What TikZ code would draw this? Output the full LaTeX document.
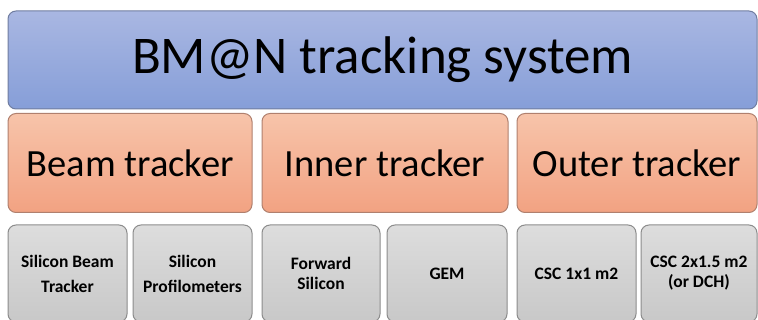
\documentclass[tikz,border=0pt]{standalone}
\usepackage{fontspec}
\setmainfont{Carlito}
\definecolor{blueTop}{RGB}{169,183,226}
\definecolor{blueBot}{RGB}{134,158,216}
\definecolor{blueLine}{RGB}{112,125,160}
\definecolor{salTop}{RGB}{247,196,170}
\definecolor{salBot}{RGB}{242,162,130}
\definecolor{salLine}{RGB}{176,128,110}
\definecolor{greyTop}{RGB}{221,221,221}
\definecolor{greyBot}{RGB}{200,200,200}
\definecolor{greyLine}{RGB}{140,140,140}
\begin{document}
\begin{tikzpicture}[x=1pt, y=-1pt,
  panel/.style={rounded corners=8pt, line width=1pt, inner sep=0pt},
  head/.style={panel, draw=blueLine, top color=blueTop, bottom color=blueBot,
    minimum width=749pt, minimum height=98pt, font=\fontsize{53}{60}\selectfont},
  group/.style={panel, draw=salLine, top color=salTop, bottom color=salBot,
    minimum height=99pt, font=\fontsize{38.5}{44}\selectfont},
  part/.style={panel, draw=greyLine, top color=greyTop, bottom color=greyBot,
    minimum height=97pt, align=center, font=\bfseries\fontsize{17.5}{20}\selectfont}]
  \clip (0,0) rectangle (758,320);
  % top level
  \node[head] (bman) at (382.5,60) {BM@N tracking system};
  % trackers
  \node[group, minimum width=244pt] (beam) at (130,163) {Beam tracker};
  \node[group, minimum width=246pt] (inner) at (385,163) {Inner tracker};
  \node[group, minimum width=240pt] (outer) at (637,163) {Outer tracker};
  % detectors
  \node[part, minimum width=119pt] (sbt) at (67.5,273.5) {Silicon Beam\\[5pt]Tracker};
  \node[part, minimum width=119pt] (prof) at (192.5,273.5) {Silicon\\[5pt]Profilometers};
  \node[part, minimum width=118pt] (fsi) at (321,273.5) {Forward\\Silicon};
  \node[part, minimum width=120pt] (gem) at (447,273.5) {GEM};
  \node[part, minimum width=119pt] (csca) at (576.5,273.5) {CSC 1x1 m2};
  \node[part, minimum width=116pt] (cscb) at (699,273.5) {CSC 2x1.5 m2\\(or DCH)};
\end{tikzpicture}
\end{document}
